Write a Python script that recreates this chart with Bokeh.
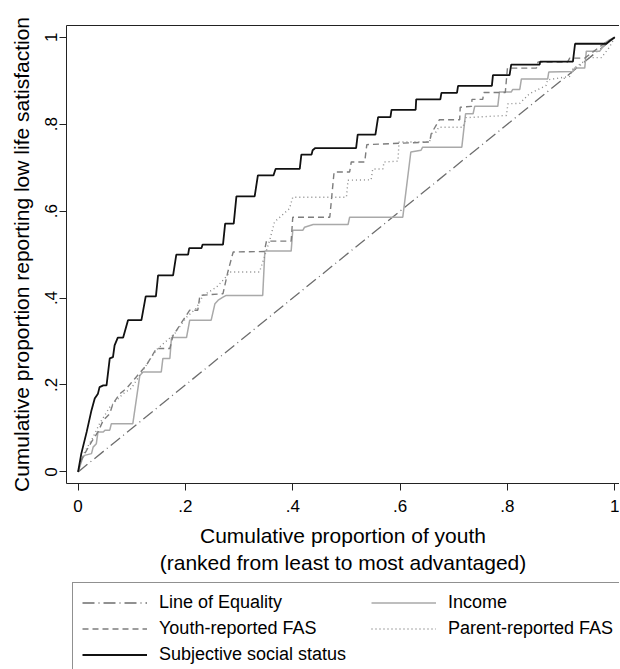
from bokeh.plotting import figure
from bokeh.models import Range1d, FixedTicker, Legend, LegendItem, LinearAxis
from bokeh.layouts import column
from bokeh.embed import file_html
from bokeh.resources import INLINE

# ---- data ----
equality_x = [0.0, 1.0]
equality_y = [0.0, 1.0]

income_x = [0.0, 0.009, 0.012, 0.025, 0.028, 0.034, 0.037, 0.047, 0.050, 0.059, 0.062, 0.102,
            0.115, 0.121, 0.155, 0.158, 0.171, 0.174, 0.202, 0.208, 0.248, 0.255, 0.261, 0.270,
            0.276, 0.344, 0.348, 0.397, 0.400, 0.419, 0.422, 0.438, 0.503, 0.506, 0.605, 0.620,
            0.639, 0.642, 0.715, 0.722, 0.736, 0.739, 0.782, 0.785, 0.807, 0.810, 0.823, 0.826,
            0.875, 0.877, 0.922, 0.925, 0.944, 0.947, 0.972, 0.984, 1.0]
income_y = [0.0, 0.034, 0.038, 0.042, 0.057, 0.065, 0.092, 0.092, 0.096, 0.096, 0.111, 0.111,
            0.222, 0.230, 0.230, 0.261, 0.261, 0.309, 0.309, 0.349, 0.349, 0.387, 0.395, 0.402,
            0.406, 0.406, 0.508, 0.508, 0.556, 0.556, 0.563, 0.569, 0.569, 0.586, 0.586, 0.736,
            0.740, 0.747, 0.747, 0.824, 0.824, 0.841, 0.841, 0.874, 0.874, 0.880, 0.880, 0.904,
            0.904, 0.920, 0.921, 0.929, 0.929, 0.968, 0.968, 0.989, 1.0]

youth_x = [0.0, 0.006, 0.016, 0.025, 0.037, 0.047, 0.059, 0.065, 0.078, 0.090, 0.106, 0.127,
           0.146, 0.171, 0.177, 0.208, 0.223, 0.227, 0.270, 0.279, 0.289, 0.347, 0.351, 0.397,
           0.400, 0.469, 0.477, 0.506, 0.509, 0.534, 0.538, 0.655, 0.658, 0.673, 0.711, 0.712,
           0.733, 0.734, 0.754, 0.756, 0.796, 0.800, 0.854, 0.857, 0.912, 0.916, 0.944, 0.984, 1.0]
youth_y = [0.0, 0.027, 0.050, 0.069, 0.092, 0.119, 0.134, 0.157, 0.180, 0.192, 0.215, 0.245,
           0.284, 0.284, 0.314, 0.372, 0.372, 0.406, 0.410, 0.460, 0.506, 0.507, 0.531, 0.531,
           0.586, 0.586, 0.690, 0.690, 0.713, 0.713, 0.753, 0.759, 0.778, 0.810, 0.810, 0.839,
           0.841, 0.857, 0.857, 0.873, 0.873, 0.929, 0.929, 0.943, 0.943, 0.952, 0.952, 0.989, 1.0]

parent_x = [0.0, 0.003, 0.012, 0.028, 0.040, 0.059, 0.084, 0.099, 0.121, 0.146, 0.180, 0.202,
            0.220, 0.233, 0.258, 0.273, 0.283, 0.338, 0.347, 0.357, 0.366, 0.394, 0.400, 0.500,
            0.503, 0.546, 0.549, 0.568, 0.570, 0.596, 0.598, 0.655, 0.658, 0.667, 0.672, 0.717,
            0.723, 0.798, 0.801, 0.823, 0.841, 0.872, 0.875, 0.916, 0.922, 0.953, 0.975, 0.990, 1.0]
parent_y = [0.0, 0.019, 0.045, 0.080, 0.111, 0.149, 0.180, 0.192, 0.234, 0.281, 0.318, 0.356,
            0.376, 0.406, 0.425, 0.445, 0.460, 0.460, 0.494, 0.533, 0.575, 0.606, 0.632, 0.632,
            0.671, 0.672, 0.697, 0.697, 0.713, 0.715, 0.759, 0.759, 0.778, 0.782, 0.793, 0.793,
            0.815, 0.820, 0.847, 0.848, 0.870, 0.889, 0.902, 0.910, 0.927, 0.953, 0.953, 0.977, 1.0]

sss_x = [0.0, 0.006, 0.016, 0.025, 0.031, 0.037, 0.040, 0.047, 0.053, 0.059, 0.065, 0.068,
         0.074, 0.084, 0.093, 0.118, 0.126, 0.145, 0.149, 0.177, 0.183, 0.205, 0.207, 0.230,
         0.232, 0.270, 0.274, 0.290, 0.295, 0.329, 0.335, 0.364, 0.368, 0.413, 0.416, 0.435,
         0.437, 0.442, 0.518, 0.521, 0.554, 0.559, 0.582, 0.584, 0.629, 0.630, 0.675, 0.677,
         0.706, 0.708, 0.771, 0.773, 0.804, 0.807, 0.860, 0.861, 0.922, 0.926, 0.984, 0.990, 1.0]
sss_y = [0.0, 0.042, 0.092, 0.142, 0.169, 0.180, 0.195, 0.199, 0.199, 0.261, 0.264, 0.291,
         0.309, 0.309, 0.349, 0.349, 0.404, 0.404, 0.452, 0.452, 0.500, 0.500, 0.515, 0.515,
         0.523, 0.523, 0.571, 0.571, 0.634, 0.634, 0.682, 0.682, 0.697, 0.697, 0.730, 0.730,
         0.740, 0.745, 0.745, 0.776, 0.776, 0.816, 0.816, 0.833, 0.833, 0.857, 0.857, 0.872,
         0.872, 0.888, 0.888, 0.913, 0.913, 0.937, 0.937, 0.944, 0.944, 0.985, 0.985, 0.991, 1.0]

tick_values = [0.0, 0.2, 0.4, 0.6, 0.8, 1.0]
tick_labels = ["0", ".2", ".4", ".6", ".8", "1"]

series_names = ["Line of Equality", "Income", "Youth-reported FAS",
                "Parent-reported FAS", "Subjective social status"]

FONT = "Liberation Sans"
AX = "#222222"

styles = [
    dict(line_color="#6e6e6e", line_width=1.3, line_dash="12 4 1 4"),   # equality
    dict(line_color="#a9a9a9", line_width=1.5),                         # income
    dict(line_color="#7d7d7d", line_width=1.4, line_dash="6 4"),        # youth FAS
    dict(line_color="#8a8a8a", line_width=1.4, line_dash="1 3"),        # parent FAS
    dict(line_color="#111111", line_width=1.8),                         # SSS
]
series = [(equality_x, equality_y), (income_x, income_y), (youth_x, youth_y),
          (parent_x, parent_y), (sss_x, sss_y)]

# ---------------- main plot ----------------
p = figure(frame_width=553, frame_height=458,
           x_range=Range1d(-0.0216, 1.0088), y_range=Range1d(-0.0267, 1.027),
           output_backend="svg", toolbar_location=None, title=None,
           min_border_left=66, min_border_top=25, min_border_right=0, min_border_bottom=98,
           background_fill_color="white", border_fill_color="white")
p.outline_line_color = None
p.grid.visible = False

for (xs, ys), st in zip(series, styles):
    p.line(xs, ys, **st)

overrides = {v: s for v, s in zip(tick_values, tick_labels)}
for ax in (p.xaxis[0], p.yaxis[0]):
    ax.ticker = FixedTicker(ticks=tick_values)
    ax.major_label_overrides = overrides
    ax.minor_tick_line_color = None
    ax.major_tick_in = 0
    ax.major_tick_out = 7
    ax.major_tick_line_color = AX
    ax.axis_line_color = AX
    ax.major_label_text_font = FONT
    ax.major_label_text_font_size = "17px"
    ax.major_label_text_color = "black"
    ax.axis_label_text_font = FONT
    ax.axis_label_text_font_size = "21px"
    ax.axis_label_text_font_style = "normal"
    ax.axis_label_text_color = "black"

p.xaxis[0].axis_label = "Cumulative proportion of youth\n(ranked from least to most advantaged)"
p.xaxis[0].major_label_standoff = 9
p.xaxis[0].axis_label_standoff = 9
p.yaxis[0].axis_label = "Cumulative proportion reporting low life satisfaction"
p.yaxis[0].major_label_orientation = "vertical"
p.yaxis[0].major_label_standoff = 2
p.yaxis[0].axis_label_standoff = 10

# top border of the plot region (right side runs off the picture as in the reference)
top_ax = LinearAxis(ticker=FixedTicker(ticks=[]), axis_line_color=AX,
                    major_tick_line_color=None, minor_tick_line_color=None,
                    major_label_text_font_size="0px")
p.add_layout(top_ax, "above")

# ---------------- legend strip ----------------
# the strip's ranges lie away from the data, so its line renderers exist only to
# provide legend samples
lg = figure(width=619, height=88, x_range=Range1d(5, 6), y_range=Range1d(5, 6),
            output_backend="svg", toolbar_location=None, title=None,
            x_axis_type=None, y_axis_type=None,
            min_border_left=0, min_border_right=0, min_border_top=0, min_border_bottom=0,
            background_fill_color="white", border_fill_color="white")
lg.outline_line_color = None
lg.grid.visible = False

legend_renderers = [lg.line(xs, ys, **st) for (xs, ys), st in zip(series, styles)]
items = [LegendItem(label=n, renderers=[r]) for n, r in zip(series_names, legend_renderers)]
legend = Legend(items=items, orientation="horizontal", ncols=2, location=(6, -6),
                label_text_font=FONT, label_text_font_size="18px", label_text_color="black",
                glyph_width=65, glyph_height=21, label_height=21, label_width=207,
                label_standoff=12, spacing=5, padding=9, margin=0,
                border_line_color=AX, border_line_width=1,
                background_fill_color="white", background_fill_alpha=1.0)
lg.add_layout(legend, "center")

layout = column(p, lg, spacing=0)
open("out.html", "w").write(file_html(layout, INLINE))
